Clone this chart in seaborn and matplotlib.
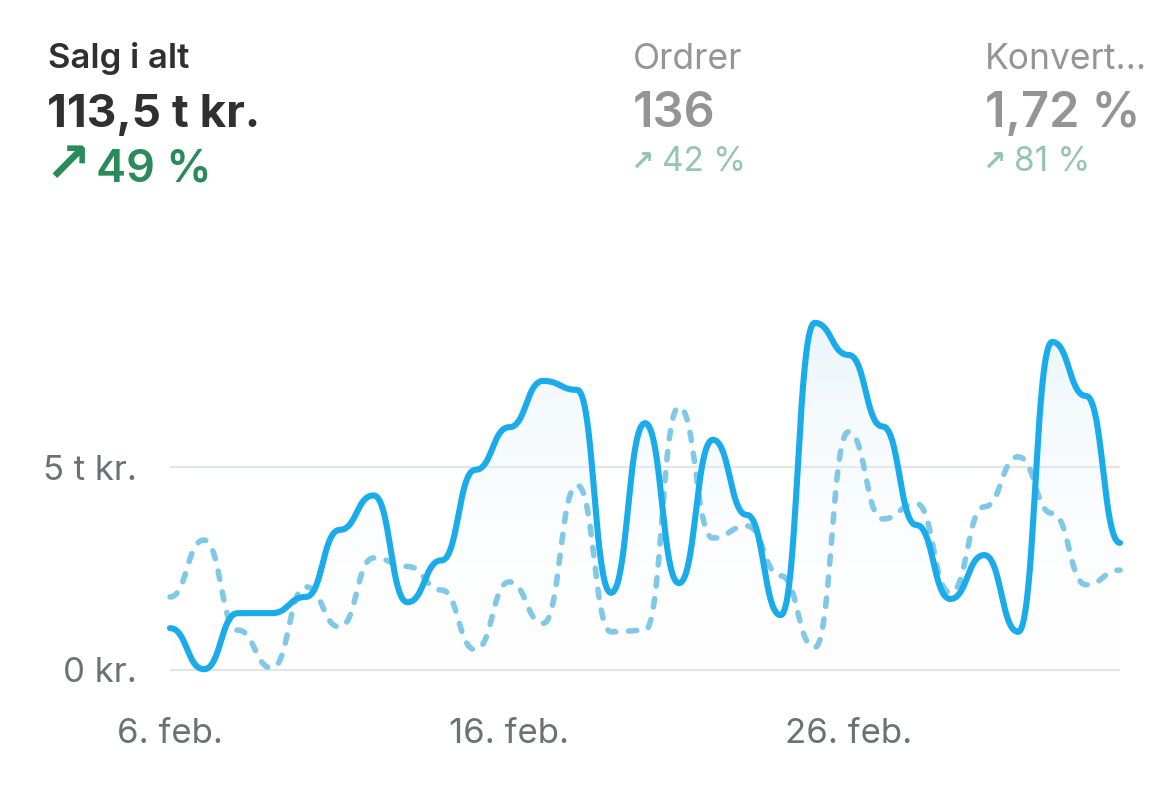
import numpy as np
import pandas as pd
import matplotlib.pyplot as plt
import seaborn as sns

# dagligt salg, tusind kr. (6. feb. - 5. mar.)
salg = [1.03, 0.02, 1.40, 1.40, 1.80, 3.45, 4.30, 1.67, 2.70, 4.93,
        5.98, 7.12, 6.90, 1.90, 6.08, 2.14, 5.67, 3.82, 1.35, 8.55,
        7.76, 6.00, 3.57, 1.75, 2.83, 0.94, 8.08, 6.75, 3.13]
# samme periode tidligere (stiplet)
salg_forrige = [1.80, 3.20, 0.98, 0.05, 2.05, 1.06, 2.76, 2.55, 1.97, 0.50,
                2.17, 1.15, 4.55, 0.94, 0.98, 6.48, 3.25, 3.55, 2.32, 0.55,
                5.87, 3.72, 4.10, 1.90, 4.02, 5.25, 3.86, 2.10, 2.46]
dage = pd.date_range("2024-02-06", periods=len(salg), freq="D")
tick_dage = [0, 10, 20]
tick_tekst = ["6. feb.", "16. feb.", "26. feb."]
y_ticks = [0, 5000]
y_tekst = ["0 kr.", "5 t kr."]

kpi_navne = ["Salg i alt", "Ordrer", "Konvert…"]
kpi_vaerdier = ["113,5 t kr.", "136", "1,72 %"]
kpi_aendring = ["49 %", "42 %", "81 %"]

BLAA = "#1aabea"
LYSBLAA = "#80c8e7"
GRAA_TEKST = "#6d7175"
GRID = "#e3e4e6"

W, H = 1168, 787


def bump(y, n=40):
    # glat kurve med vandrette tangenter i hvert punkt (som d3 curveBumpX)
    y = np.asarray(y, float)
    t = np.linspace(0, 1, n, endpoint=False)
    xs, ys = [], []
    for i in range(len(y) - 1):
        bx = 1.5 * t * (1 - t) + t**3
        by = 3 * (1 - t) * t**2 + t**3
        xs.append(i + bx)
        ys.append(y[i] + (y[i + 1] - y[i]) * by)
    xs.append([len(y) - 1])
    ys.append([y[-1]])
    return np.concatenate(xs), np.concatenate(ys)


sns.set_theme(style="white")
plt.rcParams["font.family"] = ["Inter", "DejaVu Sans"]

fig = plt.figure(figsize=(W / 100, H / 100), dpi=100, facecolor="white")

# akse: x 170..1120 px, 0 kr. ved y=670 px, 5 t kr. ved y=467 px
px_per_k = (670 - 467) / 5.0
ax_top, ax_bot = 250, 700
ax = fig.add_axes([170 / W, 1 - ax_bot / H, 950 / W, (ax_bot - ax_top) / H])
ax.set_xlim(0, len(salg) - 1)
ax.set_ylim(-(ax_bot - 670) / px_per_k * 1000, (670 - ax_top) / px_per_k * 1000)

x_glat, y_glat = bump(salg)
x_glat2, y_glat2 = bump(salg_forrige)
y_glat = y_glat * 1000
y_glat2 = y_glat2 * 1000

# gradient under den fuldt optrukne linje
poly = ax.fill_between(x_glat, 0, y_glat, color="none", lw=0)
grad = np.linspace(0, 1, 256).reshape(-1, 1)
cmap = plt.matplotlib.colors.LinearSegmentedColormap.from_list(
    "g", [(1, 1, 1, 0), (0.86, 0.93, 0.97, 0.55)])
img = ax.imshow(grad, extent=[0, len(salg) - 1, 0, max(y_glat)], origin="lower",
                aspect="auto", cmap=cmap, zorder=1)
img.set_clip_path(poly.get_paths()[0], transform=ax.transData)

for yt in y_ticks:
    ax.axhline(yt, color=GRID, lw=1.6, zorder=0.5)

df = pd.DataFrame({"x": x_glat2, "y": y_glat2})
sns.lineplot(data=df, x="x", y="y", ax=ax, color=LYSBLAA, lw=4.0,
             estimator=None, sort=False, clip_on=False, zorder=2)
ax.lines[-1].set_dashes((1.5, 2.3))
ax.lines[-1].set_dash_capstyle("round")

df = pd.DataFrame({"x": x_glat, "y": y_glat})
sns.lineplot(data=df, x="x", y="y", ax=ax, color=BLAA, lw=4.4,
             estimator=None, sort=False, clip_on=False, zorder=3)
ax.lines[-1].set_solid_capstyle("round")
ax.lines[-1].set_solid_joinstyle("round")

ax.set_xticks(tick_dage)
ax.set_xticklabels(tick_tekst)
ax.set_yticks(y_ticks)
ax.set_yticklabels(y_tekst)
ax.tick_params(axis="both", length=0, labelsize=25, colors=GRAA_TEKST)
ax.tick_params(axis="y", pad=24)
ax.tick_params(axis="x", pad=13)
ax.set_xlabel("")
ax.set_ylabel("")
ax.grid(False)
for sp in ax.spines.values():
    sp.set_visible(False)
ax.patch.set_alpha(0)


def tekst(x, y, s, **kw):
    fig.text(x / W, 1 - y / H, s, va="baseline", ha="left", **kw)


# overskrifter
tekst(48, 68, kpi_navne[0], fontsize=25, fontweight="semibold", color="#303030")
tekst(47, 127, kpi_vaerdier[0], fontsize=33, fontweight="bold", color="#303030")
tekst(44, 182, "↗", fontsize=40, fontweight="bold", color="#2a8a5a",
      family=["DejaVu Sans"])
tekst(96, 182, kpi_aendring[0], fontsize=32.5, fontweight="semibold", color="#2a8a5a")

for x0, i in [(633, 1), (985, 2)]:
    tekst(x0, 69, kpi_navne[i], fontsize=25.5, color="#959595")
    tekst(x0, 127, kpi_vaerdier[i], fontsize=35, fontweight="semibold", color="#949494")
    tekst(x0 - 3, 170, "↗", fontsize=20, fontweight="bold", color="#93c6aa",
          family=["DejaVu Sans"])
    tekst(x0 + 29, 171, kpi_aendring[i], fontsize=24, color="#93c6aa")

fig.savefig("out.png", dpi=100, facecolor="white")
plt.close("all")
